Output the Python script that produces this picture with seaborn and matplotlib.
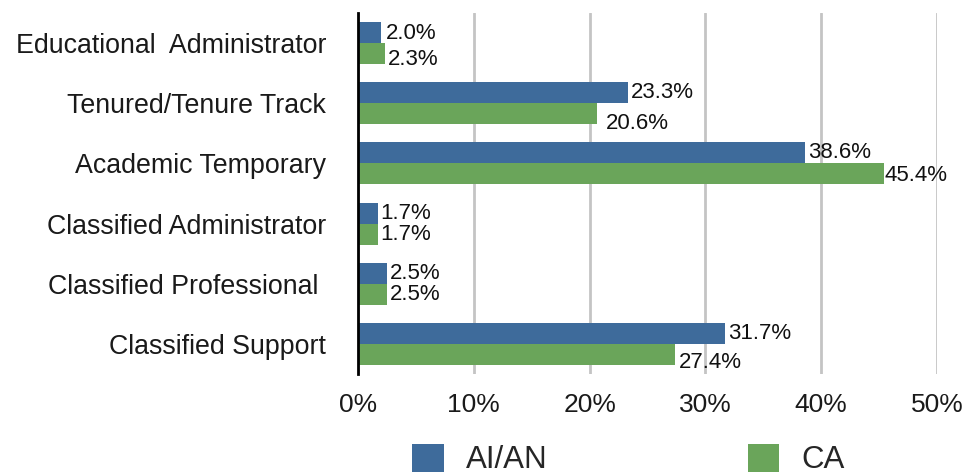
import matplotlib
matplotlib.use("Agg")
import matplotlib.pyplot as plt
import seaborn as sns
import pandas as pd
from matplotlib.patches import Patch

categories = ["Educational  Administrator", "Tenured/Tenure Track", "Academic Temporary",
              "Classified Administrator", "Classified Professional ", "Classified Support"]
series_names = ["AI/AN", "CA"]
aian = [2.0, 23.3, 38.6, 1.7, 2.5, 31.7]
ca = [2.3, 20.6, 45.4, 1.7, 2.5, 27.4]
x_ticks = [0, 10, 20, 30, 40, 50]
x_tick_labels = ["0%", "10%", "20%", "30%", "40%", "50%"]

colors = ["#3E6B9B", "#6AA55A"]
# label nudges in pixels (style only)
label_dx = [[5, 3, 3, 3, 3, 3], [3, 9, 1, 3, 3, 4]]
label_dy = [[-1, 0, 0, 0, 0, 0], [-6, -10, -2, 0, 0, -8]]

sns.set_theme(style="white")
plt.rcParams["font.family"] = ["Liberation Sans", "DejaVu Sans"]

df = pd.DataFrame({
    "category": categories * 2,
    "series": [series_names[0]] * len(categories) + [series_names[1]] * len(categories),
    "value": aian + ca,
})

fig = plt.figure(figsize=(9.64, 4.75), dpi=100)
ax = fig.add_axes([358 / 964, 1 - 374 / 475, (937 - 358) / 964, (374 - 13) / 475])

sns.barplot(data=df, y="category", x="value", hue="series", order=categories,
            hue_order=series_names, palette=colors, orient="h", width=0.7,
            saturation=1, ax=ax, legend=False, linewidth=0)

ax.set_xlim(0, 50)
ax.set_ylim(len(categories) - 0.5, -0.5)
ax.set_xticks(x_ticks)
ax.set_xticklabels(x_tick_labels, fontsize=19, color="#1a1a1a")
ax.tick_params(axis="x", length=0, pad=14)
ax.tick_params(axis="y", length=0, pad=23, labelsize=19.3, labelcolor="#1a1a1a")
ax.set_xlabel("")
ax.set_ylabel("")
ax.xaxis.grid(True, color="#C4C4C4", linewidth=2)
ax.set_axisbelow(True)
for s in ["top", "right", "bottom"]:
    ax.spines[s].set_visible(False)
ax.spines["left"].set_color("black")
ax.spines["left"].set_linewidth(2)
ax.spines["left"].set_zorder(5)

for container, vals, dxs, dys in zip(ax.containers, [aian, ca], label_dx, label_dy):
    for patch, v, dx, dy in zip(container.patches, vals, dxs, dys):
        ax.annotate(f"{v:.1f}%", xy=(patch.get_x() + patch.get_width(),
                                     patch.get_y() + patch.get_height() / 2),
                    xytext=(dx, dy), textcoords="offset pixels", ha="left", va="center",
                    fontsize=16, color="#111111", annotation_clip=False)

handles = [Patch(facecolor=c, edgecolor="none") for c in colors]
fig.legend(handles, series_names, loc="upper center", bbox_to_anchor=(0.652, 0.066),
           ncol=2, frameon=False, fontsize=22.5, handlelength=1.0, handleheight=1.0,
           handletextpad=0.72, columnspacing=6.4, borderaxespad=0, borderpad=0)

fig.savefig("out.png", dpi=100)
